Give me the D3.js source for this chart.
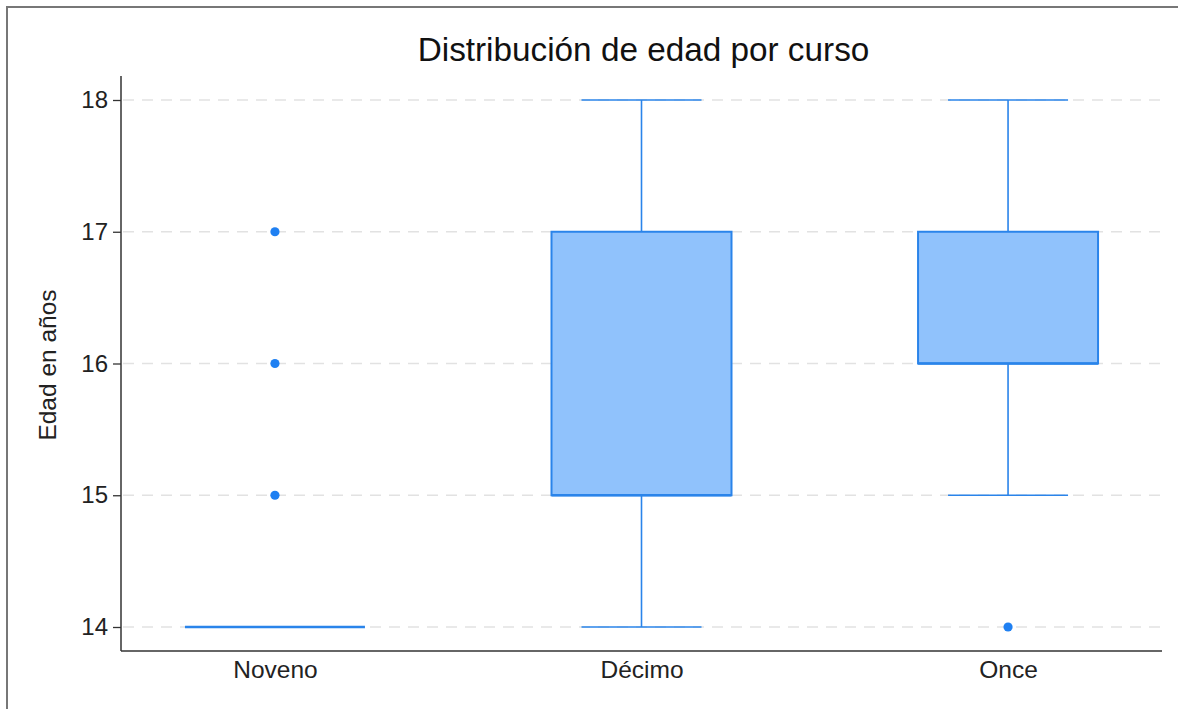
<!DOCTYPE html>
<html>
<head>
<meta charset="utf-8">
<script src="https://cdn.jsdelivr.net/npm/d3@7"></script>
<style>
  html, body { margin: 0; background: #fff; overflow: hidden; }
  svg { display: block; font-family: "Liberation Sans", Arial, sans-serif; }
</style>
</head>
<body>
<svg width="1178" height="709"></svg>
<script>
// data
const cursos = ["Noveno", "Décimo", "Once"];
const minimo = [14, 14, 15];
const q1 = [14, 15, 16];
const mediana = [14, 15, 16];
const q3 = [14, 17, 17];
const maximo = [14, 18, 18];
const atipicos = [[15, 16, 17], [], [14]];
const yTicks = [14, 15, 16, 17, 18];

const svg = d3.select("svg");
const blue = "#2a84ea", fill = "#90c2fc", dot = "#1f80f2";

// outer frame: only the left and top edges show in the picture
svg.append("path").attr("d", "M7,709 V7 H1178")
  .attr("fill", "none").attr("stroke", "#777").attr("stroke-width", 2);

const pLeft = 121, pRight = 1162, pTop = 76, pBottom = 651;

const y = d3.scaleLinear().domain([14, 18]).range([627, 100]);
const x = d3.scalePoint().domain(cursos).range([pLeft, pRight]).padding(0.42);

// gridlines
svg.append("g").selectAll("line").data(yTicks).join("line")
  .attr("x1", pLeft + 2).attr("x2", pRight - 2)
  .attr("y1", d => y(d)).attr("y2", d => y(d))
  .attr("stroke", "#e2e2e2").attr("stroke-width", 1.5).attr("stroke-dasharray", "11,8");

// axes
const yAxis = svg.append("g").attr("transform", `translate(${pLeft},0)`)
  .call(d3.axisLeft(y).tickValues(yTicks).tickSize(8).tickPadding(5).tickFormat(d3.format("d")));
yAxis.select(".domain").remove();
yAxis.selectAll("line").attr("stroke", "#333").attr("stroke-width", 1.3);
yAxis.selectAll("text").attr("font-size", 24).attr("fill", "#222").style("font-family", "Liberation Sans, Arial, sans-serif");

const xAxis = svg.append("g").attr("transform", `translate(0,${pBottom})`)
  .call(d3.axisBottom(x).tickSize(0).tickPadding(10));
xAxis.select(".domain").remove();
xAxis.selectAll("text").attr("font-size", 24.5).attr("fill", "#222").style("font-family", "Liberation Sans, Arial, sans-serif");

svg.append("line").attr("x1", pLeft).attr("x2", pLeft).attr("y1", pTop).attr("y2", pBottom)
  .attr("stroke", "#333").attr("stroke-width", 1.5);
svg.append("line").attr("x1", pLeft).attr("x2", pRight).attr("y1", pBottom).attr("y2", pBottom)
  .attr("stroke", "#333").attr("stroke-width", 1.5);

// boxes
const boxW = 180, capW = 120;
const g = svg.append("g");
cursos.forEach((c, i) => {
  const cx = x(c);
  // whiskers
  g.append("line").attr("x1", cx).attr("x2", cx).attr("y1", y(maximo[i])).attr("y2", y(q3[i]))
    .attr("stroke", blue).attr("stroke-width", 1.6);
  g.append("line").attr("x1", cx).attr("x2", cx).attr("y1", y(q1[i])).attr("y2", y(minimo[i]))
    .attr("stroke", blue).attr("stroke-width", 1.6);
  if (maximo[i] !== q3[i])
    g.append("line").attr("x1", cx - capW / 2).attr("x2", cx + capW / 2)
      .attr("y1", y(maximo[i])).attr("y2", y(maximo[i])).attr("stroke", blue).attr("stroke-width", 1.6);
  if (minimo[i] !== q1[i])
    g.append("line").attr("x1", cx - capW / 2).attr("x2", cx + capW / 2)
      .attr("y1", y(minimo[i])).attr("y2", y(minimo[i])).attr("stroke", blue).attr("stroke-width", 1.6);
  // box
  g.append("rect").attr("x", cx - boxW / 2).attr("width", boxW)
    .attr("y", y(q3[i])).attr("height", y(q1[i]) - y(q3[i]))
    .attr("fill", fill).attr("stroke", blue).attr("stroke-width", 2);
  // median
  g.append("line").attr("x1", cx - boxW / 2).attr("x2", cx + boxW / 2)
    .attr("y1", y(mediana[i])).attr("y2", y(mediana[i]))
    .attr("stroke", blue).attr("stroke-width", 2.6);
  // outliers
  g.selectAll(null).data(atipicos[i]).join("circle")
    .attr("cx", cx).attr("cy", d => y(d)).attr("r", 4.6).attr("fill", dot);
});

// title and y label
svg.append("text").attr("x", (pLeft + pRight) / 2 + 2).attr("y", 61).attr("text-anchor", "middle")
  .attr("font-size", 33.3).attr("fill", "#111").text("Distribución de edad por curso");
svg.append("text").attr("transform", `translate(56,365) rotate(-90)`)
  .attr("text-anchor", "middle").attr("font-size", 24.5).attr("fill", "#222").text("Edad en años");
</script>
</body>
</html>
